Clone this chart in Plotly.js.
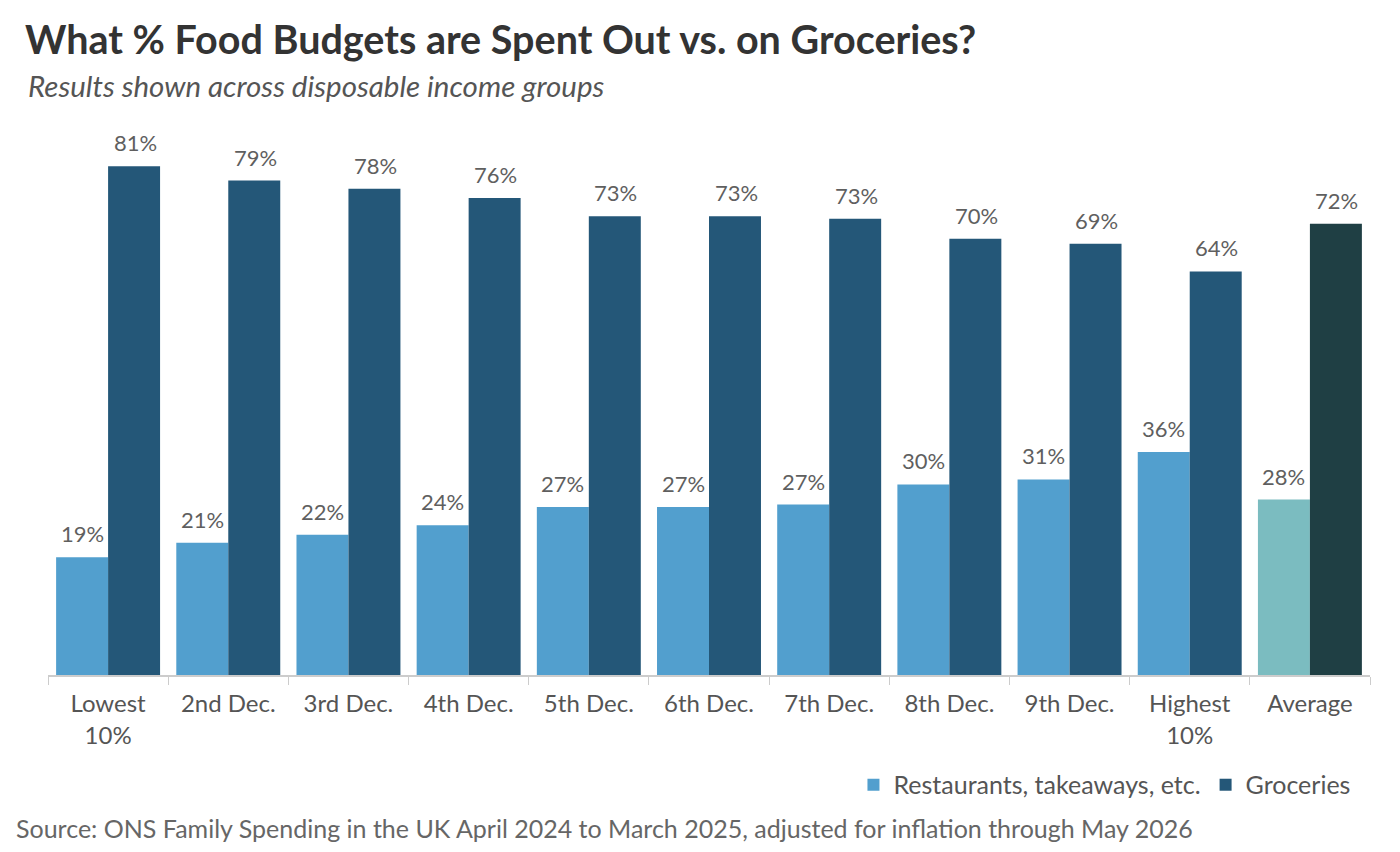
<!DOCTYPE html>
<html>
<head>
<meta charset="utf-8">
<script src="https://cdn.plot.ly/plotly-3.0.1.min.js"></script>
<style>html,body{margin:0;padding:0;background:#fff;}#chart{width:1400px;height:852px;}</style>
</head>
<body>
<div id="chart"></div>
<script>
const categories = ["Lowest<br>10%", "2nd Dec.", "3rd Dec.", "4th Dec.", "5th Dec.", "6th Dec.", "7th Dec.", "8th Dec.", "9th Dec.", "Highest<br>10%", "Average"];
const restaurants = [18.8, 21.1, 22.4, 23.9, 26.8, 26.8, 27.2, 30.4, 31.2, 35.6, 28.0];
const groceries = [81.2, 78.9, 77.6, 76.1, 73.2, 73.2, 72.8, 69.6, 68.8, 64.4, 72.0];
const restaurantColors = ["#529FCE","#529FCE","#529FCE","#529FCE","#529FCE","#529FCE","#529FCE","#529FCE","#529FCE","#529FCE","#7BBCC0"];
const groceryColors = ["#245778","#245778","#245778","#245778","#245778","#245778","#245778","#245778","#245778","#245778","#1F3F44"];

const FONT = "Lato, 'Open Sans', sans-serif";
const labelFont = {family: FONT, size: 22, color: "#5f5f5f"};
const traces = [
  {type: "bar", name: "Restaurants, takeaways, etc.", x: categories, y: restaurants,
   marker: {color: restaurantColors}, hoverinfo: "x+y"},
  {type: "bar", name: "Groceries", x: categories, y: groceries,
   marker: {color: groceryColors}, hoverinfo: "x+y"}
];

const valueLabels = [];
categories.forEach((c, i) => {
  valueLabels.push({x: c, y: restaurants[i], xref: "x", yref: "y", text: Math.round(restaurants[i]) + "%",
    showarrow: false, xanchor: "center", yanchor: "bottom", xshift: -26, yshift: 8, font: labelFont});
  valueLabels.push({x: c, y: groceries[i], xref: "x", yref: "y", text: Math.round(groceries[i]) + "%",
    showarrow: false, xanchor: "center", yanchor: "bottom", xshift: 27, yshift: 8, font: labelFont});
});

const layout = {
  width: 1400, height: 852,
  margin: {l: 48, r: 30, t: 111, b: 177},
  paper_bgcolor: "#ffffff", plot_bgcolor: "#ffffff",
  barmode: "group", bargap: 0.135, bargroupgap: 0,
  font: {family: FONT, color: "#555555"},
  xaxis: {
    tickfont: {family: FONT, size: 24, color: "#555555"},
    showline: true, linecolor: "#cccccc", linewidth: 1.5,
    ticks: "outside", tickson: "boundaries", ticklen: 8, tickcolor: "#cccccc",
    ticklabelstandoff: 7,
    showgrid: false, fixedrange: true
  },
  yaxis: {range: [0, 90], visible: false, showgrid: false, zeroline: false},
  showlegend: true,
  legend: {orientation: "h", x: 0.989, xanchor: "right", y: -0.195, yanchor: "middle",
    font: {family: FONT, size: 25, color: "#555555"}, traceorder: "normal"},
  title: {text: "<b>What % Food Budgets are Spent Out vs. on Groceries?</b>",
    x: 0, xref: "paper", xanchor: "left", y: 0.953, yanchor: "middle",
    pad: {l: -23},
    font: {family: FONT, size: 39.5, color: "#333333"}},
  annotations: [
    {text: "<i>Results shown across disposable income groups</i>", xref: "paper", yref: "paper",
     x: -0.017, xanchor: "left", y: 1.046, yanchor: "middle", showarrow: false,
     font: {family: FONT, size: 29.5, color: "#555555"}},
    {text: "Source: ONS Family Spending in the UK April 2024 to March 2025, adjusted for inflation through May 2026",
     xref: "paper", yref: "paper", x: -0.026, xanchor: "left", y: -0.272, yanchor: "middle",
     showarrow: false, font: {family: FONT, size: 25, color: "#666666"}}
  ].concat(valueLabels)
};
Plotly.newPlot("chart", traces, layout, {displayModeBar: false, staticPlot: true});
</script>
</body>
</html>
